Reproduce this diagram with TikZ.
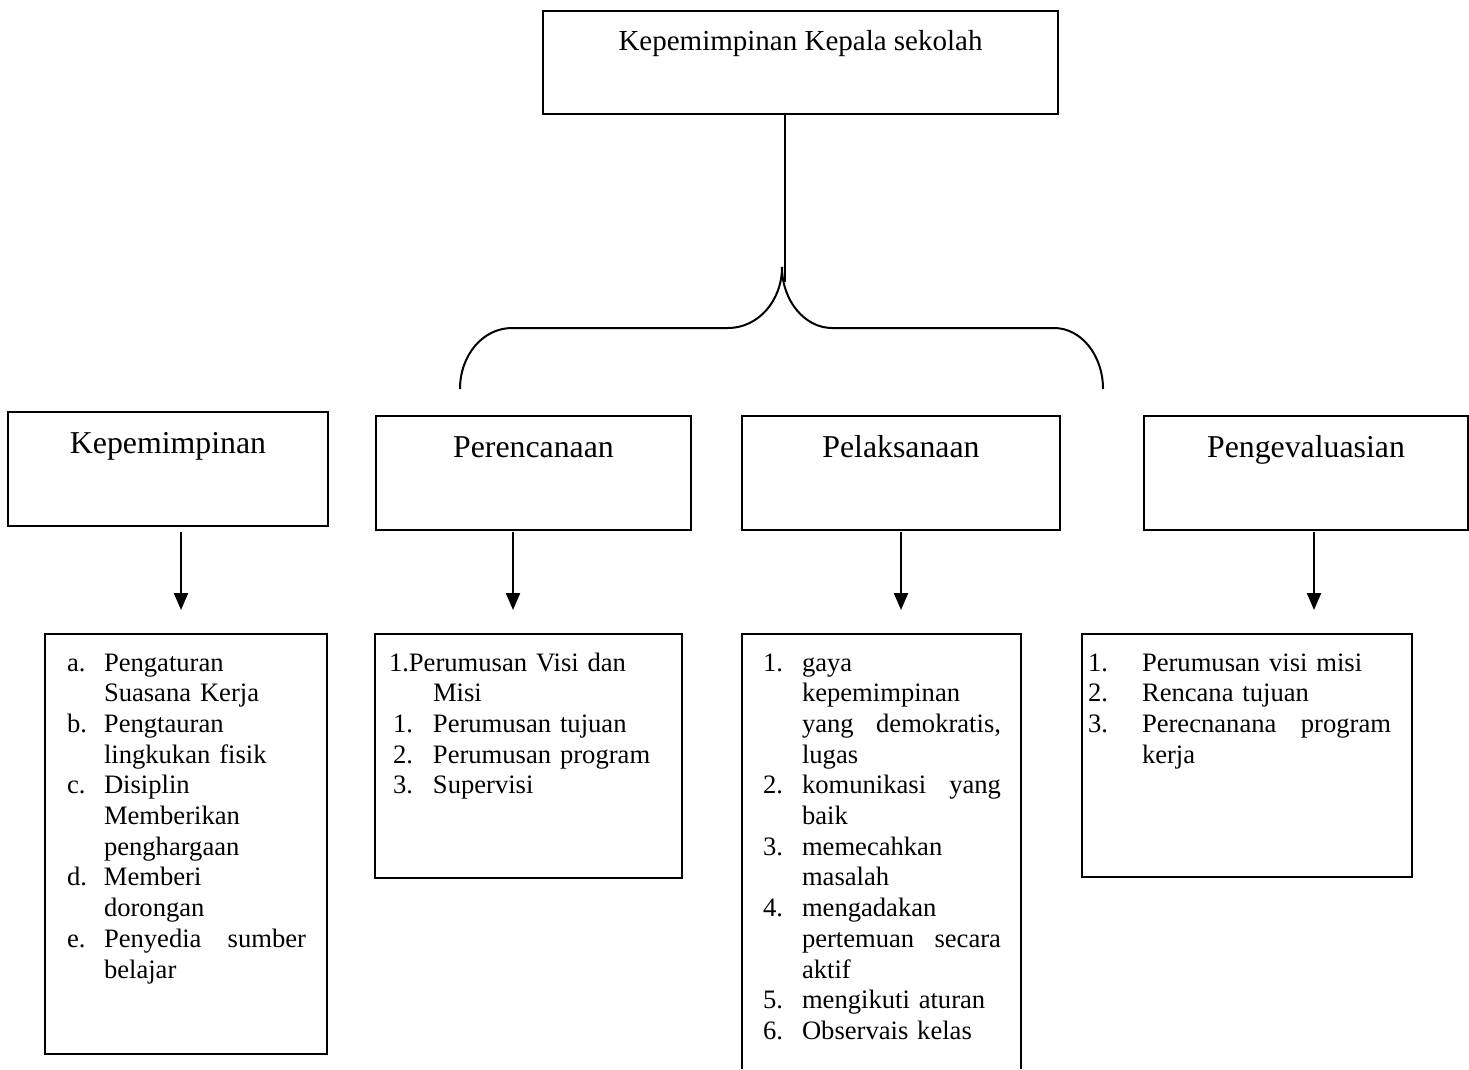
\documentclass[tikz,border=0pt]{standalone}
\usepackage{fontspec}
\setmainfont{Liberation Serif}
\usetikzlibrary{arrows.meta}
\setlength{\parindent}{0pt}
\newcommand{\lab}[2]{\makebox[#1][l]{#2}}

\begin{document}
\begin{tikzpicture}[x=1pt,y=-1pt,line width=2pt,
  box/.style={draw,rectangle},
  titletxt/.style={font=\fontsize{29}{33}\selectfont},
  headtxt/.style={font=\fontsize{31.8}{36}\selectfont},
  listtxt/.style={anchor=north west,align=left,font=\fontsize{26.6}{30.7}\selectfont},
  arr/.style={-{Triangle[length=17pt,width=14pt]},line width=2.2pt}]
\tikzstyle{every node}+=[inner sep=0pt]
\useasboundingbox (0,0) rectangle (1469,1069);
% top
\node[box,minimum width=515pt,minimum height=103pt] (kks) at (800.5,62.5) {};
\node[titletxt,anchor=base] (kkst) at (800.5,50) {Kepemimpinan Kepala sekolah};
\coordinate (stem) at (785,282);
\draw (kks.south -| stem) -- (stem);
% brace
\draw (460,389) .. controls (460,355) and (483,328) .. (512,328) -- (728,328)
  .. controls (758,328) and (782,301) .. (782,267)
  .. controls (782,301) and (805,328) .. (832,328) -- (1054,328)
  .. controls (1081,328) and (1103,355) .. (1103,389);
% headings
\node[box,minimum width=320pt,minimum height=114pt] (kep) at (168,469) {};
\node[headtxt,anchor=base] (kept) at (168,453) {Kepemimpinan};
\node[box,minimum width=315pt,minimum height=114pt] (ren) at (533.5,473) {};
\node[headtxt,anchor=base] (rent) at (533.5,457) {Perencanaan};
\node[box,minimum width=318pt,minimum height=114pt] (pel) at (901,473) {};
\node[headtxt,anchor=base] (pelt) at (901,457) {Pelaksanaan};
\node[box,minimum width=324pt,minimum height=114pt] (eva) at (1306,473) {};
\node[headtxt,anchor=base] (evat) at (1306,457) {Pengevaluasian};
% arrows
\coordinate (a1) at (181,610);
\coordinate (a2) at (513,610);
\coordinate (a3) at (901,610);
\coordinate (a4) at (1314,610);
\draw[arr] (kep.south -| a1) ++(0,5) -- (a1);
\draw[arr] (ren.south -| a2) ++(0,1) -- (a2);
\draw[arr] (pel.south -| a3) ++(0,1) -- (a3);
\draw[arr] (eva.south -| a4) ++(0,1) -- (a4);
% lists
\node[box,minimum width=282pt,minimum height=420pt] (l1) at (186,844) {};
\node[box,minimum width=307pt,minimum height=244pt] (l2) at (528.5,756) {};
\draw (742,1069) -- (742,634) -- (1021,634) -- (1021,1069);
\node[box,minimum width=330pt,minimum height=243pt] (l4) at (1247,755.5) {};
\node[listtxt,text width=239pt] (l1t) at (66,648.5) {\strut\lab{37pt}{a.}Pengaturan\\
\hspace*{37pt}Suasana Kerja\\
\lab{37pt}{b.}Pengtauran\\
\hspace*{37pt}lingkukan fisik\\
\lab{37pt}{c.}Disiplin\\
\hspace*{37pt}Memberikan\\
\hspace*{37pt}penghargaan\\
\lab{37pt}{d.}Memberi\\
\hspace*{37pt}dorongan\\
\lab{37pt}{e.}Penyedia\hfill sumber\\
\hspace*{37pt}belajar};
\node[listtxt,text width=280pt] (l2t) at (388,648.5) {\strut 1.Perumusan Visi dan\\
\hspace*{44pt}Misi\\
\hspace*{4pt}\lab{40pt}{1.}Perumusan tujuan\\
\hspace*{4pt}\lab{40pt}{2.}Perumusan program\\
\hspace*{4pt}\lab{40pt}{3.}Supervisi};
\node[listtxt,text width=238pt] (l3t) at (762,648.5) {\strut\lab{39pt}{1.}gaya\\
\hspace*{39pt}kepemimpinan\\
\hspace*{39pt}yang\hfill demokratis,\\
\hspace*{39pt}lugas\\
\lab{39pt}{2.}komunikasi\hfill yang\\
\hspace*{39pt}baik\\
\lab{39pt}{3.}memecahkan\\
\hspace*{39pt}masalah\\
\lab{39pt}{4.}mengadakan\\
\hspace*{39pt}pertemuan\hfill secara\\
\hspace*{39pt}aktif\\
\lab{39pt}{5.}mengikuti aturan\\
\lab{39pt}{6.}Observais kelas};
\node[listtxt,text width=303pt] (l4t) at (1087,648.5) {\strut\lab{54pt}{1.}Perumusan visi misi\\
\lab{54pt}{2.}Rencana tujuan\\
\lab{54pt}{3.}Perecnanana\hfill program\\
\hspace*{54pt}kerja};
\end{tikzpicture}
\end{document}
